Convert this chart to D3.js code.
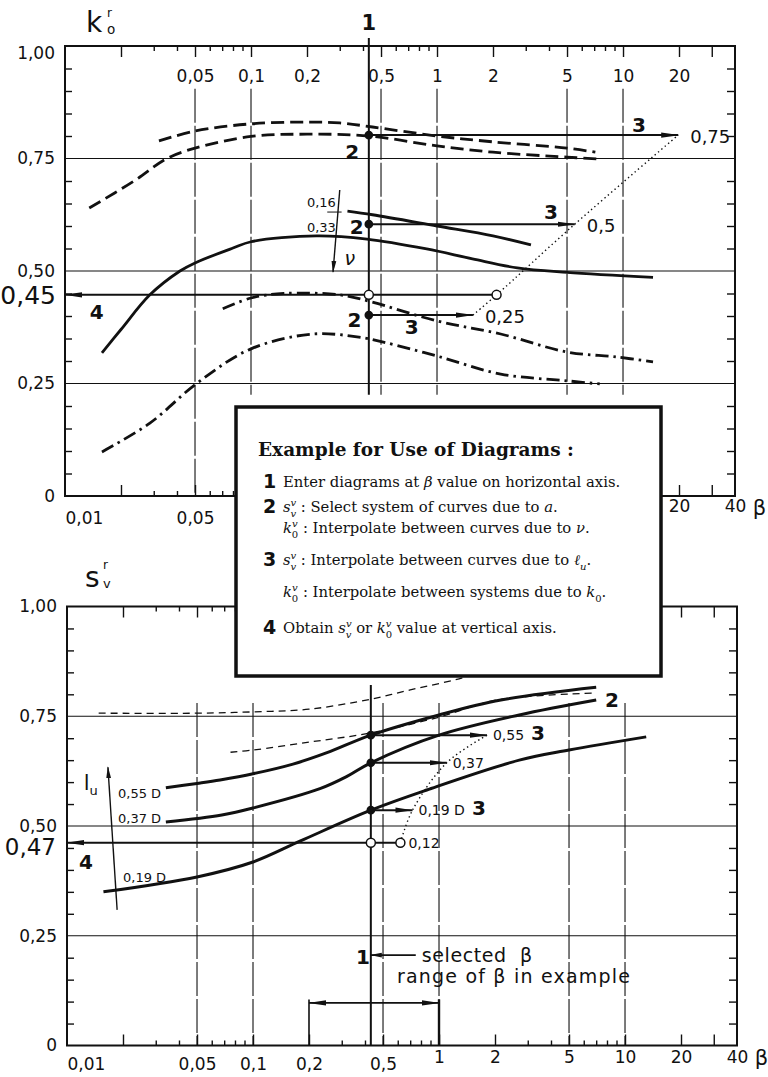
<!DOCTYPE html>
<html>
<head>
<meta charset="utf-8">
<title>k0 and sv diagrams</title>
<script src="https://cdn.jsdelivr.net/npm/d3@7"></script>
<style>
  body { margin: 0; background: #fff; }
  text { font-family: "DejaVu Sans", "Liberation Sans", sans-serif; fill: #111; white-space: pre; }
  text.note { font-family: "DejaVu Serif", "Liberation Serif", serif; }
</style>
</head>
<body>
<svg id="chart" width="768" height="1077"></svg>
<script>
// beta axis (log) and value axis, the same for both diagrams
var betaTicks    = [0.01, 0.05, 0.1, 0.2, 0.5, 1, 2, 5, 10, 20, 40];
var betaTickText = ["0,01", "0,05", "0,1", "0,2", "0,5", "1", "2", "5", "10", "20", "40"];
var betaMajor = [0.02, 0.05, 0.1, 0.2, 0.5, 1, 2, 5, 10, 20, 30];
var betaMinor = [0.03, 0.04, 0.06, 0.07, 0.08, 0.09, 0.3, 0.4, 0.6, 0.7, 0.8, 0.9, 3, 4, 6, 7, 8, 9];
var betaGrid  = [0.05, 0.1, 0.5, 1, 5, 10];
var valueTicks    = [0, 0.25, 0.5, 0.75, 1];
var valueTickText = ["0", "0,25", "0,50", "0,75", "1,00"];
var valueMinor = [0.05, 0.1, 0.15, 0.2, 0.3, 0.35, 0.4, 0.45, 0.55, 0.6, 0.65, 0.7, 0.8, 0.85, 0.9, 0.95];
var valueGrid  = [0.25, 0.5, 0.75];

// upper diagram: k0 over beta
var kDashUpper  = [[0.032,0.789],[0.05,0.811],[0.1,0.827],[0.2,0.831],[0.3,0.829],[0.45,0.82],[1,0.80],[2,0.787],[5,0.773],[7.1,0.764]];
var kDashLower  = [[0.0135,0.64],[0.0235,0.70],[0.0353,0.75],[0.05,0.773],[0.1,0.799],[0.2,0.804],[0.43,0.80],[1,0.778],[2,0.764],[5,0.753],[7.3,0.749]];
var kSolidUpper = [[0.33,0.633],[0.45,0.625],[1,0.60],[2,0.578],[3.2,0.558]];
var kSolidLower = [[0.0158,0.318],[0.02,0.37],[0.0286,0.447],[0.0415,0.50],[0.05,0.518],[0.08,0.551],[0.1,0.565],[0.225,0.578],[0.42,0.571],[0.88,0.549],[1.55,0.527],[2.7,0.507],[5,0.497],[14.5,0.486]];
var kDotUpper   = [[0.0705,0.416],[0.1,0.44],[0.15,0.45],[0.3,0.447],[0.43,0.433],[1,0.389],[2.2,0.36],[5,0.32],[9.2,0.309],[14.5,0.298]];
var kDotLower   = [[0.0158,0.098],[0.0286,0.162],[0.051,0.25],[0.1,0.327],[0.215,0.36],[0.38,0.353],[0.515,0.342],[1,0.311],[2.2,0.271],[5,0.256],[7.5,0.249]];

var betaSel = 0.43;
var kSelDots   = [0.802, 0.604, 0.402];
var kArrowTip  = [19.8, 5.5, 1.56];
var kArrowText = ["0,75", "0,5", "0,25"];
var kReadBeta = 2.09, kReadValue = 0.447, kReadText = "0,45";
var kInterp = [[1.56,0.402],[2.09,0.447],[5.5,0.604],[19.8,0.802]];
var kStepText = ["2", "2", "2", "3", "3", "3", "4"];
var kStepAt   = [[0.35,0.764],[0.37,0.598],[0.36,0.391],[12.2,0.824],[4.1,0.631],[0.73,0.376],[0.0148,0.409]];
var nuArrow  = [[0.30,0.68],[0.276,0.498]];
var nuText   = ["0,16", "0,33"];
var nuTextAt = [[0.286,0.653],[0.286,0.598]];
var nuMark   = [[0.257,0.631],[0.307,0.631]];

// lower diagram: sv over beta
var sThick55   = [[0.034,0.587],[0.05,0.597],[0.0665,0.605],[0.1,0.619],[0.164,0.641],[0.25,0.667],[0.43,0.707],[1,0.753],[2.15,0.787],[7,0.816]];
var sThick37   = [[0.034,0.509],[0.068,0.525],[0.1,0.541],[0.229,0.585],[0.32,0.613],[0.43,0.644],[1,0.707],[2.7,0.753],[7,0.787]];
var sThick19   = [[0.0157,0.35],[0.05,0.384],[0.1,0.418],[0.18,0.466],[0.43,0.536],[0.86,0.582],[2.7,0.65],[5,0.673],[13,0.703]];
var sThinUpper = [[0.0148,0.757],[0.05,0.757],[0.1,0.76],[0.2,0.766],[0.43,0.789],[0.7,0.81],[1.37,0.839],[2.5,0.878]];
var sThinLower = [[0.0757,0.668],[0.1,0.673],[0.2,0.691],[0.43,0.712],[1,0.748],[2.05,0.787],[7,0.803]];

var sSelDots   = [0.707, 0.644, 0.536];
var sArrowTip  = [1.81, 1.10, 0.72];
var sArrowText = ["0,55", "0,37", "0,19 D"];
var sArrowStep = ["3", "", "3"];
var sReadBeta = 0.62, sReadValue = 0.462, sReadText = "0,47", sReadLu = "0,12";
var sInterp = [[0.62,0.462],[0.72,0.536],[1.10,0.644],[1.81,0.707]];
var sCurveText   = ["0,55 D", "0,37 D", "0,19 D"];
var sCurveTextAt = [[0.0188,0.575],[0.0188,0.518],[0.02,0.382]];
var sStepText = ["2", "4", "1"];
var sStepAt   = [[8.5,0.787],[0.01265,0.418],[0.39,0.202]];
var luArrow   = [[0.0186,0.309],[0.0166,0.634]];
var rangeBeta = [0.2, 1], rangeLevel = 0.097;
var selArrow  = [0.75, 0.43], selLevel = 0.206;
var rangeTextAt = [0.594, 0.157];

var svg = d3.select("#chart");
var defs = svg.append("defs");
defs.append("marker").attr("id", "head")
    .attr("viewBox", "0 0 18 8").attr("refX", 17).attr("refY", 4)
    .attr("markerWidth", 18).attr("markerHeight", 8)
    .attr("markerUnits", "userSpaceOnUse").attr("orient", "auto-start-reverse")
  .append("path").attr("d", "M0,1.4L18,4L0,6.6Z").attr("fill", "#111");
defs.append("marker").attr("id", "headSmall")
    .attr("viewBox", "0 0 12 6").attr("refX", 11).attr("refY", 3)
    .attr("markerWidth", 12).attr("markerHeight", 6)
    .attr("markerUnits", "userSpaceOnUse").attr("orient", "auto")
  .append("path").attr("d", "M0,0.6L12,3L0,5.4Z").attr("fill", "#111");

function makePanel(xRange, yRange, gridTop, gridStop) {
    var x = d3.scaleLog().domain([0.01, 40]).range(xRange);
    var y = d3.scaleLinear().domain([0, 1]).range(yRange);
    var g = svg.append("g").attr("color", "#111");
    var left = x(0.01), right = x(40), upper = y(1), lower = y(0);

    g.selectAll(null).data(valueGrid).enter().append("line")
        .attr("x1", left).attr("x2", right)
        .attr("y1", function (d) { return y(d); }).attr("y2", function (d) { return y(d); })
        .attr("stroke", "#111").attr("stroke-width", 1.1);
    g.selectAll(null).data(betaGrid).enter().append("line")
        .attr("x1", function (d) { return x(d); }).attr("x2", function (d) { return x(d); })
        .attr("y1", y(gridTop)).attr("y2", function (d) { return y(gridStop(d)); })
        .attr("stroke", "#111").attr("stroke-width", 1.1).attr("stroke-dasharray", "34,3");

    function ticks(axis, tx, ty) {
        g.append("g").attr("transform", "translate(" + tx + "," + ty + ")")
            .call(axis)
            .call(function (a) { a.select(".domain").remove(); })
            .selectAll("line").attr("stroke-width", 1.4);
    }
    ticks(d3.axisBottom(x).tickValues(betaMajor).tickSize(11).tickFormat(""), 0, upper);
    ticks(d3.axisBottom(x).tickValues(betaMinor).tickSize(5).tickFormat(""), 0, upper);
    ticks(d3.axisTop(x).tickValues(betaMajor).tickSize(11).tickFormat(""), 0, lower);
    ticks(d3.axisTop(x).tickValues(betaMinor).tickSize(5).tickFormat(""), 0, lower);
    ticks(d3.axisRight(y).tickValues(valueMinor).tickSize(7).tickFormat(""), left, 0);
    ticks(d3.axisLeft(y).tickValues(valueMinor).tickSize(8).tickFormat(""), right, 0);

    g.append("rect")
        .attr("x", left).attr("y", upper)
        .attr("width", right - left).attr("height", lower - upper)
        .attr("fill", "none").attr("stroke", "#111").attr("stroke-width", 2);

    var yl = g.append("g").attr("transform", "translate(" + left + ",0)")
        .call(d3.axisLeft(y).tickValues(valueTicks).tickSize(0).tickPadding(10)
            .tickFormat(function (d, i) { return valueTickText[i]; }));
    yl.select(".domain").remove();
    yl.attr("font-size", 17);

    return {x: x, y: y, g: g};
}

function betaLabels(P, vals, ty, pad) {
    var axis = d3.axisBottom(P.x)
        .tickValues(vals).tickSize(0).tickPadding(pad)
        .tickFormat(function (d) { return betaTickText[betaTicks.indexOf(d)]; });
    var a = P.g.append("g").attr("transform", "translate(0," + ty + ")").call(axis);
    a.select(".domain").remove();
    a.attr("font-size", 17);
    a.selectAll(".tick text").filter(function (d) { return d === 0.01; })
        .attr("text-anchor", "start");
    a.selectAll(".tick").filter(function (d) { return d === 40; })
        .append("text").attr("x", 24).attr("y", pad).attr("dy", "0.71em")
        .attr("font-size", 21).attr("fill", "#111").text("β");
}

function curve(P, pts, width, dash) {
    P.g.append("path")
        .attr("d", d3.line()
            .x(function (d) { return P.x(d[0]); })
            .y(function (d) { return P.y(d[1]); })
            .curve(d3.curveCatmullRom.alpha(0.5))(pts))
        .attr("fill", "none").attr("stroke", "#111")
        .attr("stroke-width", width)
        .attr("stroke-dasharray", dash || null);
}

function segment(P, a, b, width, marker, dash) {
    P.g.append("line")
        .attr("x1", P.x(a[0])).attr("y1", P.y(a[1]))
        .attr("x2", P.x(b[0])).attr("y2", P.y(b[1]))
        .attr("stroke", "#111").attr("stroke-width", width)
        .attr("stroke-dasharray", dash || null)
        .attr("marker-end", marker ? "url(#" + marker + ")" : null);
}

function dot(P, b, v, open) {
    P.g.append("circle")
        .attr("cx", P.x(b)).attr("cy", P.y(v)).attr("r", open ? 4.5 : 3.6)
        .attr("fill", open ? "#fff" : "#111")
        .attr("stroke", "#111").attr("stroke-width", 1.5);
}

function label(P, b, v, txt, size, anchor, bold, dx) {
    return P.g.append("text")
        .attr("x", P.x(b) + (dx || 0)).attr("y", P.y(v)).attr("dy", "0.36em")
        .attr("font-size", size).attr("text-anchor", anchor || "middle")
        .attr("font-weight", bold ? "bold" : null)
        .text(txt);
}

// ---------- upper diagram ----------
var kPanel = makePanel([65, 735], [496, 46], 0.905, function (d) { return d < 0.08 ? 0 : 0.225; });
betaLabels(kPanel, betaTicks.slice(1, 10), kPanel.y(1), 24);
// the instruction box hides the middle labels of this axis
betaLabels(kPanel, [0.01, 0.05], kPanel.y(0), 16);
betaLabels(kPanel, [20, 40], kPanel.y(0), 4);
kPanel.g.selectAll("g text").filter(function () { return d3.select(this).text() === "1,00"; })
    .attr("transform", "translate(0,7)");

curve(kPanel, kDashUpper, 2.8, "13,6");
curve(kPanel, kDashLower, 2.8, "13,6");
curve(kPanel, kSolidUpper, 2.8);
curve(kPanel, kSolidLower, 2.8);
curve(kPanel, kDotUpper, 2.8, "13,5,2.5,5");
curve(kPanel, kDotLower, 2.8, "13,5,2.5,5");

segment(kPanel, [betaSel, 1.018], [betaSel, 0.225], 2);
segment(kPanel, [kReadBeta, kReadValue], [0.01, kReadValue], 2, "head");
curve(kPanel, kInterp, 1.4, "1.4,3");
kSelDots.forEach(function (v, i) {
    segment(kPanel, [betaSel, v], [kArrowTip[i], v], 2, "head");
    dot(kPanel, betaSel, v, false);
    label(kPanel, kArrowTip[i], v, kArrowText[i], 18, "start", false, 12).attr("dy", "0.45em");
});
dot(kPanel, betaSel, kReadValue, true);
dot(kPanel, kReadBeta, kReadValue, true);
kStepText.forEach(function (t, i) { label(kPanel, kStepAt[i][0], kStepAt[i][1], t, 20, "middle", true); });

segment(kPanel, nuArrow[0], nuArrow[1], 1.4, "headSmall");
segment(kPanel, nuMark[0], nuMark[1], 1);
nuText.forEach(function (t, i) { label(kPanel, nuTextAt[i][0], nuTextAt[i][1], t, 13, "end"); });
label(kPanel, 0.34, 0.529, "ν", 19, "middle").attr("font-style", "italic");

svg.append("text").attr("x", 56).attr("y", kPanel.y(kReadValue)).attr("dy", "0.36em")
    .attr("font-size", 25).attr("text-anchor", "end").text(kReadText);
svg.append("text").attr("x", kPanel.x(betaSel)).attr("y", 30)
    .attr("font-size", 21).attr("font-weight", "bold").attr("text-anchor", "middle").text("1");
svg.append("text").attr("x", 86).attr("y", 32).attr("font-size", 28).text("k");
svg.append("text").attr("x", 107).attr("y", 17).attr("font-size", 12).text("r");
svg.append("text").attr("x", 107).attr("y", 34).attr("font-size", 13.5).text("o");

// ---------- lower diagram ----------
var sPanel = makePanel([67, 737], [1045.5, 606.5], 0.78, function () { return 0; });
betaLabels(sPanel, [0.01, 0.05, 0.1, 0.2, 0.5], sPanel.y(0), 12);
betaLabels(sPanel, [1, 2, 5, 10, 20, 40], sPanel.y(0), 5);

curve(sPanel, sThinUpper, 1.3, "7,5");
curve(sPanel, sThinLower, 1.3, "7,5");
curve(sPanel, sThick55, 3);
curve(sPanel, sThick37, 3);
curve(sPanel, sThick19, 3);

segment(sPanel, [betaSel, 0.821], [betaSel, 0], 2);
segment(sPanel, [sReadBeta, sReadValue], [0.01, sReadValue], 2, "head");
curve(sPanel, sInterp, 1.4, "1.4,3");
sSelDots.forEach(function (v, i) {
    segment(sPanel, [betaSel, v], [sArrowTip[i], v], 2, "head");
    dot(sPanel, betaSel, v, false);
    var t = label(sPanel, sArrowTip[i], v, null, 14, "start", false, 6);
    t.append("tspan").text(sArrowText[i]);
    if (sArrowStep[i]) {
        t.append("tspan").attr("font-size", 20).attr("font-weight", "bold").attr("dx", 7).text(sArrowStep[i]);
    }
});
dot(sPanel, betaSel, sReadValue, true);
dot(sPanel, sReadBeta, sReadValue, true);
label(sPanel, sReadBeta, sReadValue, sReadLu, 14, "start", false, 8);
sCurveText.forEach(function (t, i) { label(sPanel, sCurveTextAt[i][0], sCurveTextAt[i][1], t, 13, "start"); });
sStepText.forEach(function (t, i) { label(sPanel, sStepAt[i][0], sStepAt[i][1], t, 20, "middle", true); });

segment(sPanel, luArrow[0], luArrow[1], 1.4, "headSmall");
label(sPanel, 0.0123, 0.600, "l", 21, "start").append("tspan").attr("font-size", 13).attr("dy", 5).text("u");

// selected beta and range of beta
segment(sPanel, [selArrow[0], selLevel], [selArrow[1], selLevel], 1.8, "headSmall");
label(sPanel, selArrow[0], selLevel, "selected  β", 19, "start", false, 6).attr("letter-spacing", 0.6);
label(sPanel, rangeTextAt[0], rangeTextAt[1], "range of β in example", 19, "start").attr("letter-spacing", 1.2);
rangeBeta.forEach(function (b, i) {
    segment(sPanel, [b, rangeLevel + 0.008], [b, 0], i === 1 ? 2.4 : 1.6);
});
sPanel.g.append("line")
    .attr("x1", sPanel.x(rangeBeta[0])).attr("x2", sPanel.x(rangeBeta[1]))
    .attr("y1", sPanel.y(rangeLevel)).attr("y2", sPanel.y(rangeLevel))
    .attr("stroke", "#111").attr("stroke-width", 1.8)
    .attr("marker-start", "url(#head)").attr("marker-end", "url(#head)");

svg.append("text").attr("x", 56).attr("y", sPanel.y(sReadValue) + 4).attr("dy", "0.36em")
    .attr("font-size", 23).attr("text-anchor", "end").text(sReadText);
svg.append("text").attr("x", 85).attr("y", 587).attr("font-size", 28).text("s");
svg.append("text").attr("x", 103).attr("y", 569).attr("font-size", 12).text("r");
svg.append("text").attr("x", 103).attr("y", 588).attr("font-size", 13).text("v");

// ---------- instruction box ----------
var box = svg.append("g");
box.append("rect").attr("x", 236).attr("y", 407).attr("width", 425).attr("height", 269)
    .attr("fill", "#fff").attr("stroke", "#111").attr("stroke-width", 3.5);
box.append("text").attr("class", "note").attr("x", 258).attr("y", 456)
    .attr("font-size", 18.5).attr("font-weight", "bold").text("Example for Use of Diagrams :");

var noteLines = [
    {num: "1", y: 487, parts: [["t", "Enter diagrams at "], ["i", "β"], ["t", " value on horizontal axis."]]},
    {num: "2", y: 512, parts: [["s", "s", "v", "v"], ["t", " : Select system of curves due to "], ["i", "a"], ["t", "."]]},
    {num: "",  y: 533, parts: [["s", "k", "v", "0"], ["t", " : Interpolate between curves due to "], ["i", "ν"], ["t", "."]]},
    {num: "3", y: 565, parts: [["s", "s", "v", "v"], ["t", " : Interpolate between curves due to "], ["s", "ℓ", "", "u"], ["t", "."]]},
    {num: "",  y: 597, parts: [["s", "k", "v", "0"], ["t", " : Interpolate between systems due to "], ["s", "k", "", "0"], ["t", "."]]},
    {num: "4", y: 633, parts: [["t", "Obtain "], ["s", "s", "v", "v"], ["t", " or "], ["s", "k", "v", "0"], ["t", " value at vertical axis."]]}
];
noteLines.forEach(function (ln) {
    if (ln.num) {
        box.append("text").attr("x", 263).attr("y", ln.y + 1)
            .attr("font-size", 19).attr("font-weight", "bold").text(ln.num);
    }
    var t = box.append("text").attr("class", "note").attr("x", 283).attr("y", ln.y).attr("font-size", 14.8);
    var back = 0;
    ln.parts.forEach(function (p) {
        if (p[0] === "s") {
            t.append("tspan").attr("font-style", "italic").attr("dy", back || null).text(p[1]);
            if (p[2]) {
                t.append("tspan").attr("font-size", 10).attr("font-style", "italic").attr("dy", -6.5).text(p[2]);
                t.append("tspan").attr("font-size", 10).attr("font-style", p[3] === "0" ? null : "italic")
                    .attr("dx", -5.8).attr("dy", 11).text(p[3]);
            } else {
                t.append("tspan").attr("font-size", 10).attr("font-style", p[3] === "0" ? null : "italic")
                    .attr("dy", 4.5).text(p[3]);
            }
            back = -4.5;
        } else {
            t.append("tspan").attr("font-style", p[0] === "i" ? "italic" : null)
                .attr("dy", back || null).text(p[1]);
            back = 0;
        }
    });
});
</script>
</body>
</html>
